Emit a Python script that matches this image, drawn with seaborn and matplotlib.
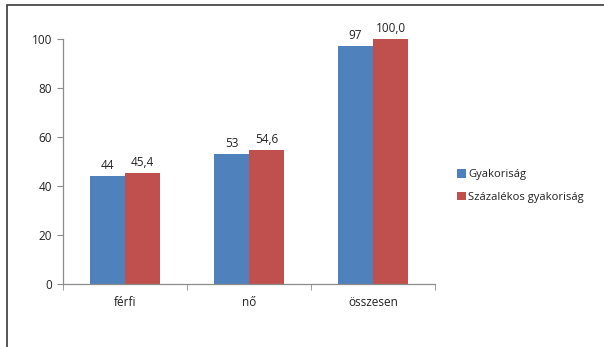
import matplotlib
matplotlib.use("Agg")
import matplotlib.pyplot as plt
import seaborn as sns
import pandas as pd
from matplotlib.patches import Rectangle

categories = ["férfi", "nő", "összesen"]
series_names = ["Gyakoriság", "Százalékos gyakoriság"]
gyakorisag = [44, 53, 97]
szazalekos = [45.4, 54.6, 100.0]
y_ticks = [0, 20, 40, 60, 80, 100]

df = pd.DataFrame({
    "kategoria": categories * 2,
    "sorozat": [series_names[0]] * 3 + [series_names[1]] * 3,
    "ertek": gyakorisag + szazalekos,
})

sns.set_style("white")
plt.rcParams["font.family"] = ["Open Sans", "DejaVu Sans"]

fig = plt.figure(figsize=(6.04, 3.47), dpi=100)
ax = fig.add_axes([63 / 604, 1 - 284 / 347, (435 - 63) / 604, (284 - 39) / 347])

palette = {series_names[0]: "#4F81BD", series_names[1]: "#C0504D"}
sns.barplot(data=df, x="kategoria", y="ertek", hue="sorozat", order=categories,
            hue_order=series_names, palette=palette, width=0.565, dodge=True,
            saturation=1, ax=ax, legend=True, errorbar=None, gap=0,
            linewidth=0, edgecolor="none")

ax.set_xlim(-0.5, 2.5)
ax.set_ylim(0, 100)
ax.set_yticks(y_ticks)
ax.set_xlabel("")
ax.set_ylabel("")

for spine in ["top", "right"]:
    ax.spines[spine].set_visible(False)
for spine in ["left", "bottom"]:
    ax.spines[spine].set_color("#8c8c8c")
    ax.spines[spine].set_linewidth(0.9)

ax.tick_params(axis="y", which="major", length=4, color="#8c8c8c", labelsize=8.5,
               labelcolor="#222222", direction="out", left=True, pad=4)
ax.tick_params(axis="x", which="major", length=0, labelsize=8.5, labelcolor="#222222", pad=9)
ax.set_xticks([-0.5, 0.5, 1.5, 2.5], minor=True)
ax.tick_params(axis="x", which="minor", length=4, color="#8c8c8c", direction="out", bottom=True)

fmt = [lambda v: f"{v:.0f}", lambda v: f"{v:.1f}".replace(".", ",")]
for container, f in zip(ax.containers, fmt):
    ax.bar_label(container, labels=[f(b.get_height()) for b in container],
                 padding=3, fontsize=8.5, color="#222222")

handles, labels = ax.get_legend_handles_labels()
ax.legend_.remove()
fig.legend(handles, labels, loc="center left", bbox_to_anchor=(447 / 604, 1 - 186 / 347),
           frameon=False, fontsize=8.1, handlelength=0.75, handleheight=0.75,
           handletextpad=0.25, labelspacing=1.0, labelcolor="#222222")

# outer chart-area frame, running off the right and bottom edges
fig.patches.append(Rectangle((6.5 / 604, -0.05), 1.0, 1 - 4.5 / 347 + 0.05,
                             transform=fig.transFigure, fill=False,
                             edgecolor="#3a3a3a", linewidth=1.2))

fig.savefig("out.png", dpi=100)
